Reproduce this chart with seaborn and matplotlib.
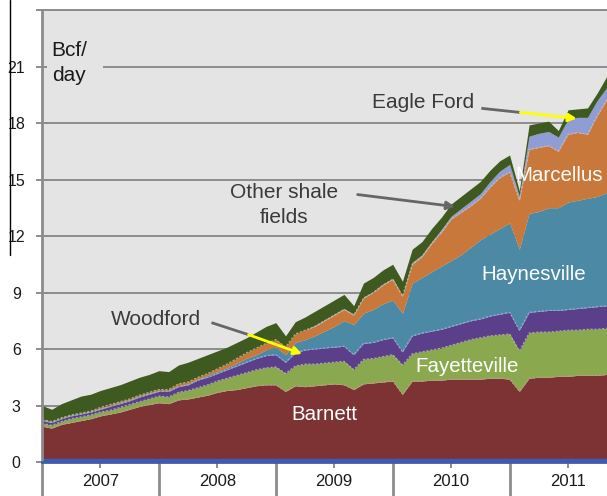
import numpy as np
import seaborn as sns
import matplotlib.pyplot as plt
from matplotlib.lines import Line2D
from matplotlib.patches import Rectangle

# monthly shale gas production, Bcf/day, Jan 2007 .. Nov 2011
years = ["2007", "2008", "2009", "2010", "2011"]

base = [0.2, 0.2, 0.2, 0.2, 0.2, 0.2, 0.2, 0.2, 0.2, 0.2, 0.2, 0.2,
        0.2, 0.2, 0.2, 0.2, 0.2, 0.2, 0.2, 0.2, 0.2, 0.2, 0.2, 0.2,
        0.2, 0.2, 0.2, 0.2, 0.2, 0.2, 0.2, 0.2, 0.2, 0.2, 0.2, 0.2,
        0.2, 0.2, 0.2, 0.2, 0.2, 0.2, 0.2, 0.2, 0.2, 0.2, 0.2, 0.2,
        0.2, 0.2, 0.2, 0.2, 0.2, 0.2, 0.2, 0.2, 0.2, 0.2, 0.2]
barnett = [1.7, 1.6, 1.8, 1.9, 2.0, 2.1, 2.25, 2.35, 2.45, 2.6, 2.75, 2.85,
           2.95, 2.9, 3.1, 3.15, 3.25, 3.35, 3.5, 3.6, 3.65, 3.75, 3.85, 3.9,
           3.9, 3.55, 3.85, 3.8, 3.85, 3.9, 3.95, 3.9, 3.65, 3.95, 4.0, 4.05,
           4.1, 3.4, 4.1, 4.1, 4.15, 4.15, 4.2, 4.2, 4.2, 4.2, 4.25, 4.25,
           4.2, 3.55, 4.25, 4.3, 4.3, 4.35, 4.35, 4.4, 4.4, 4.4, 4.45]
fayetteville = [0.15, 0.15, 0.15, 0.2, 0.2, 0.2, 0.2, 0.2, 0.25, 0.25, 0.25, 0.3,
                0.35, 0.35, 0.4, 0.45, 0.5, 0.55, 0.6, 0.65, 0.75, 0.8, 0.85, 0.9,
                0.95, 0.95, 1.05, 1.2, 1.15, 1.15, 1.15, 1.25, 1.05, 1.3, 1.3, 1.35,
                1.4, 1.55, 1.45, 1.55, 1.6, 1.7, 1.8, 1.95, 2.1, 2.2, 2.25, 2.3,
                2.4, 2.15, 2.4, 2.4, 2.4, 2.4, 2.45, 2.4, 2.45, 2.45, 2.45]
woodford = [0.15, 0.15, 0.15, 0.15, 0.15, 0.15, 0.15, 0.2, 0.2, 0.2, 0.25, 0.25,
            0.25, 0.3, 0.3, 0.3, 0.4, 0.4, 0.4, 0.45, 0.5, 0.55, 0.6, 0.65,
            0.65, 0.6, 0.7, 0.75, 0.8, 0.8, 0.8, 0.8, 0.8, 0.85, 0.85, 0.9,
            0.9, 0.7, 0.95, 1.0, 1.0, 1.0, 1.0, 1.0, 1.0, 1.0, 1.05, 1.1,
            1.15, 1.1, 1.1, 1.1, 1.15, 1.1, 1.1, 1.15, 1.15, 1.2, 1.2]
haynesville = [0.05, 0.05, 0.05, 0.05, 0.05, 0.05, 0.05, 0.05, 0.05, 0.05, 0.05, 0.05,
               0.05, 0.05, 0.05, 0.05, 0.05, 0.1, 0.1, 0.1, 0.15, 0.2, 0.2, 0.3,
               0.4, 0.4, 0.55, 0.55, 0.7, 0.9, 1.1, 1.35, 1.6, 1.6, 1.75, 1.9,
               2.0, 2.05, 2.8, 2.95, 3.15, 3.35, 3.5, 3.65, 3.9, 4.2, 4.35, 4.55,
               4.75, 4.3, 5.25, 5.3, 5.45, 5.45, 5.7, 5.75, 5.8, 5.85, 6.0]
marcellus = [0.0, 0.0, 0.0, 0.0, 0.0, 0.0, 0.05, 0.05, 0.05, 0.05, 0.05, 0.05,
             0.05, 0.05, 0.1, 0.1, 0.1, 0.1, 0.15, 0.2, 0.25, 0.3, 0.35, 0.35,
             0.4, 0.4, 0.45, 0.5, 0.5, 0.55, 0.6, 0.6, 0.5, 0.8, 0.9, 1.0,
             1.1, 0.9, 1.0, 1.1, 1.5, 1.8, 2.2, 2.25, 2.2, 2.2, 2.5, 2.7,
             2.7, 2.6, 3.4, 3.4, 3.3, 3.0, 3.6, 3.6, 3.4, 4.3, 4.95]
eagle_ford = [0, 0, 0, 0, 0, 0, 0, 0, 0, 0, 0, 0,
              0, 0, 0, 0, 0, 0, 0, 0, 0, 0, 0, 0,
              0, 0, 0, 0, 0.05, 0.05, 0.05, 0.05, 0.05, 0.05, 0.05, 0.05,
              0.05, 0.05, 0.1, 0.1, 0.1, 0.15, 0.15, 0.2, 0.25, 0.25, 0.3, 0.35,
              0.4, 0.2, 0.7, 0.75, 0.75, 0.75, 0.8, 0.8, 0.9, 0.8, 0.65]
other_shale = [0.75, 0.65, 0.75, 0.8, 0.9, 0.9, 0.9, 0.9, 0.9, 0.95, 0.95, 0.95,
               1.0, 0.95, 1.0, 1.05, 1.0, 1.0, 0.95, 0.9, 0.85, 0.8, 0.85, 0.9,
               0.9, 0.6, 0.65, 0.7, 0.75, 0.75, 0.75, 0.75, 0.45, 0.75, 0.75, 0.75,
               0.75, 0.75, 0.7, 0.7, 0.7, 0.65, 0.65, 0.65, 0.65, 0.65, 0.6, 0.55,
               0.5, 0.3, 0.6, 0.55, 0.55, 0.35, 0.5, 0.45, 0.5, 0.4, 0.6]

colors = ["#3d5cae", "#7d3234", "#8aa84e", "#5b3f8a", "#4b89a4",
          "#c7783a", "#8f9dd4", "#3f5a20"]
seam_colors = [None, "#c79a8f", "#b9cc8c", "#b3aee0", None, "#e8b98a", None, None]
bg = "#e4e4e4"
grid_c = "#8c8c8c"

sns.set_theme(style="white")
plt.rcParams["font.family"] = ["Liberation Sans", "DejaVu Sans"]

fig = plt.figure(figsize=(6.07, 4.96), dpi=100)
ax = fig.add_axes([42 / 607, 34 / 496, 1 - 42 / 607, 452 / 496])
ax.set_facecolor(bg)

layers = [base, barnett, fayetteville, woodford, haynesville,
          marcellus, eagle_ford, other_shale]
x = np.arange(len(barnett))
ax.stackplot(x, *layers, colors=colors, linewidth=0)

# faint light seams along some layer tops, as in the source graphic
tops = np.cumsum(np.array(layers), axis=0)
for top, c in zip(tops, seam_colors):
    if c:
        ax.plot(x, top, color=c, lw=0.8, ls=(0, (2, 1.5)), alpha=0.8)

ax.set_xlim(0, len(barnett) - 1)
ax.set_ylim(0, 24)
ax.set_axisbelow(True)
ax.yaxis.grid(True, color=grid_c, lw=1.4)
ax.xaxis.grid(False)

ax.spines["right"].set_visible(False)
ax.spines["left"].set_color(grid_c)
ax.spines["left"].set_linewidth(2)
ax.spines["top"].set_color(grid_c)
ax.spines["top"].set_linewidth(1.4)
ax.spines["bottom"].set_color(colors[0])
ax.spines["bottom"].set_linewidth(2)

yt = list(range(0, 25, 3))
ax.set_yticks(yt)
ax.set_yticklabels([str(v) if v < 24 else "" for v in yt])
ax.tick_params(axis="y", direction="inout", length=8, width=1.4, color=grid_c,
               pad=14.5, labelsize=11.5, labelcolor="#1a1a1a", left=True)
for lab in ax.get_yticklabels():
    lab.set_horizontalalignment("center")

ax.set_xticks([0, 12, 24, 36, 48])
ax.set_xticklabels([])
ax.set_xticks([6, 18, 30, 42, 54], minor=True)
ax.set_xticklabels(years, minor=True)
ax.tick_params(axis="x", which="major", direction="out", length=26, width=2,
               color=grid_c, bottom=True)
ax.tick_params(axis="x", which="minor", direction="out", length=4, width=1.4,
               color=grid_c, pad=4.5, labelsize=12, labelcolor="#1a1a1a", bottom=True)

txt = "#3a3a3a"
# the unit label sits on a patch of background that hides the 21 gridline
ax.add_patch(Rectangle((0.5, 20.5), 5.8, 1.0, facecolor=bg, edgecolor="none", zorder=1))
ax.text(1.0, 21.2, "Bcf/\nday", ha="left", va="center", fontsize=15,
        color="#1a1a1a", linespacing=1.4)
ax.text(39.1, 19.1, "Eagle Ford", ha="center", va="center", fontsize=15, color=txt)
ax.text(24.8, 13.65, "Other shale\nfields", ha="center", va="center", fontsize=15,
        color=txt, linespacing=1.45, bbox=dict(facecolor=bg, edgecolor="none", pad=1))
ax.text(11.7, 7.55, "Woodford", ha="center", va="center", fontsize=15, color=txt)

for label, xx, yy, ha in [("Barnett", 29.0, 2.5, "center"),
                          ("Fayetteville", 43.6, 5.05, "center"),
                          ("Haynesville", 50.5, 9.95, "center"),
                          ("Marcellus", 48.6, 15.2, "left")]:
    ax.text(xx, yy, label, ha=ha, va="center", fontsize=14.8, color="white")

# pointer lines
ax.plot([45.1, 49.1], [18.78, 18.56], color="#666666", lw=2, solid_capstyle="butt")
ax.annotate("", xy=(54.9, 18.24), xytext=(49.1, 18.56),
            arrowprops=dict(arrowstyle="-|>", color="#ffff00", lw=2, mutation_scale=12,
                            shrinkA=0, shrinkB=0))
ax.annotate("", xy=(42.4, 13.56), xytext=(32.4, 14.2),
            arrowprops=dict(arrowstyle="-|>", color="#666666", lw=2, mutation_scale=12,
                            shrinkA=0, shrinkB=0))
ax.plot([17.4, 21.2], [7.4, 6.76], color="#666666", lw=2, solid_capstyle="butt")
ax.annotate("", xy=(26.7, 5.74), xytext=(21.2, 6.76),
            arrowprops=dict(arrowstyle="-|>", color="#ffff00", lw=2, mutation_scale=12,
                            shrinkA=0, shrinkB=0))

fig.add_artist(Line2D([10 / 607, 10 / 607], [1.0, 241 / 496], color="black", lw=1))

fig.savefig("out.png", dpi=100)
